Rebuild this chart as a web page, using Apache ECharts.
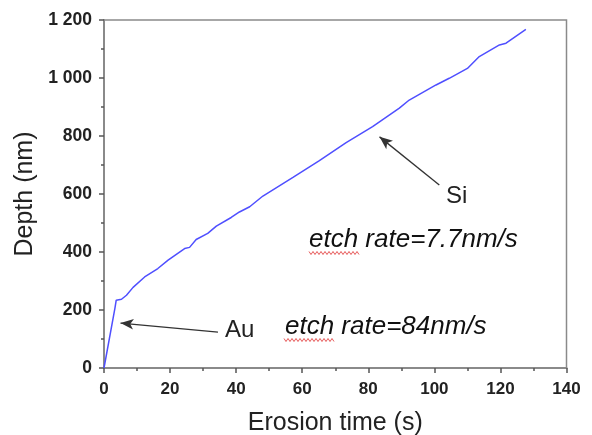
<!DOCTYPE html>
<html>
<head>
<meta charset="utf-8">
<script src="https://cdn.jsdelivr.net/npm/echarts@6/dist/echarts.min.js"></script>
<style>html,body{margin:0;padding:0;background:#fff;}#c{width:592px;height:435px;}</style>
</head>
<body>
<div id="c"></div>
<script>
// Data
var timeS = [0, 3.3, 3.7, 5.3, 6.8, 8.8, 12.3, 16.3, 19.4, 24.4, 25.9, 27.9, 31.4, 34, 38.5, 41, 44.1, 48.1, 57.2, 65.2, 73.3, 81.3, 89.4, 92.4, 100.5, 104.5, 110, 113.6, 119.7, 121.7, 127.7];
var depthNm = [0, 206, 234, 237, 251, 278, 314, 343, 372, 412, 416, 443, 464, 489, 519, 538, 556, 593, 657, 715, 777, 832, 896, 924, 976, 999, 1033, 1074, 1114, 1120, 1168];
var xTicks = [0, 20, 40, 60, 80, 100, 120, 140];
var yTicks = [0, 200, 400, 600, 800, 1000, 1200];
// annotation arrows: [tail, head] in data units
var auArrow = [[34.5, 124], [5.0, 155]];
var siArrow = [[101.5, 631], [83.4, 797]];
var labels = ["Au", "Si", "etch rate=7.7nm/s", "etch rate=84nm/s"];

var FONT = "'Liberation Sans', Arial, sans-serif";
var pts = timeS.map(function (t, i) { return [t, depthNm[i]]; });

function squiggle(x0, x1, y) {
  var p = [], k = 0;
  for (var x = x0; x <= x1; x += 2) { p.push([x, y + (k % 2 ? 1.5 : -1.5)]); k++; }
  return p;
}

var chart = echarts.init(document.getElementById('c'), null, {renderer: 'canvas'});
chart.setOption({
  animation: false,
  backgroundColor: '#fff',
  grid: {left: 104, right: 25.5, top: 20, bottom: 67, containLabel: false, outerBoundsMode: 'none',
    show: true, borderColor: '#8a8a8a', borderWidth: 1.5, backgroundColor: 'transparent'},
  xAxis: {
    type: 'value', min: xTicks[0], max: xTicks[xTicks.length - 1], interval: 20,
    name: 'Erosion time (s)', nameLocation: 'middle', nameGap: 43,
    nameTextStyle: {fontFamily: FONT, fontSize: 25, color: '#222'},
    axisLine: {show: true, onZero: false, lineStyle: {color: '#8a8a8a', width: 2}},
    axisTick: {show: true, length: 5, lineStyle: {color: '#555', width: 1.5}},
    minorTick: {show: true, splitNumber: 2, length: 3, lineStyle: {color: '#555', width: 1.5}},
    splitLine: {show: false},
    axisLabel: {fontFamily: FONT, fontSize: 17, fontWeight: 'bold', color: '#222', margin: 13}
  },
  yAxis: {
    type: 'value', min: yTicks[0], max: yTicks[yTicks.length - 1], interval: 200,
    name: 'Depth (nm)', nameLocation: 'middle', nameGap: 58,
    nameTextStyle: {fontFamily: FONT, fontSize: 25, color: '#222'},
    axisLine: {show: true, onZero: false, lineStyle: {color: '#8a8a8a', width: 2}},
    axisTick: {show: true, length: 5, lineStyle: {color: '#555', width: 1.5}},
    minorTick: {show: true, splitNumber: 2, length: 3, lineStyle: {color: '#555', width: 1.5}},
    splitLine: {show: false},
    axisLabel: {fontFamily: FONT, fontSize: 17.5, fontWeight: 'bold', color: '#222', margin: 12,
      formatter: function (v) { return String(v).replace(/\B(?=(\d{3})+(?!\d))/g, ' '); }}
  },
  series: [{
    type: 'line', data: pts, showSymbol: false, smooth: false,
    lineStyle: {color: '#4f4fff', width: 1.5},
    markLine: {
      silent: true, symbol: ['none', 'arrow'], symbolSize: [8, 13],
      label: {show: false},
      lineStyle: {color: '#333', width: 1.3, type: 'solid'},
      data: [
        [{coord: auArrow[0]}, {coord: auArrow[1]}],
        [{coord: siArrow[0]}, {coord: siArrow[1]}]
      ]
    }
  }],
  graphic: [
    {type: 'text', left: 225, top: 318, style: {text: labels[0], fontFamily: FONT, fontSize: 24, fill: '#222'}},
    {type: 'text', left: 446, top: 184, style: {text: labels[1], fontFamily: FONT, fontSize: 24, fill: '#222'}},
    {type: 'text', left: 309, top: 227, style: {text: labels[2], fontFamily: FONT, fontSize: 26, fontStyle: 'italic', fill: '#111'}},
    {type: 'text', left: 285, top: 314, style: {text: labels[3], fontFamily: FONT, fontSize: 26, fontStyle: 'italic', fill: '#111'}},
    {type: 'polyline', shape: {points: squiggle(309, 360, 253)}, style: {stroke: '#e03030', lineWidth: 0.8, fill: null}},
    {type: 'polyline', shape: {points: squiggle(284, 335, 340)}, style: {stroke: '#e03030', lineWidth: 0.8, fill: null}}
  ]
});
</script>
</body>
</html>
